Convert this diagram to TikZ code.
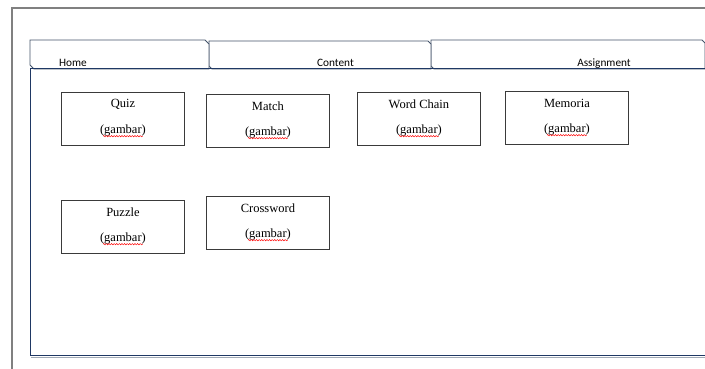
\documentclass[tikz,border=0pt]{standalone}
\usepackage{fontspec}
\setmainfont{Liberation Serif}
\newfontfamily\tabfont{Carlito}
\usetikzlibrary{calc,decorations.pathmorphing}
\definecolor{framegray}{HTML}{808080}
\definecolor{tabline}{HTML}{44546A}
\definecolor{panelline}{HTML}{1F3864}
\definecolor{boxline}{HTML}{3A3A3A}
\tikzset{
  gbox/.style={draw=boxline,line width=0.9pt,rectangle,minimum width=123pt,minimum height=53pt,inner sep=0pt,anchor=north west},
  gtitle/.style={font=\fontsize{12.5}{14}\selectfont,inner sep=0pt},
  gsub/.style={font=\fontsize{12.5}{14}\selectfont,inner sep=0pt},
  tablabel/.style={font=\tabfont\fontsize{11.3}{13}\selectfont,inner sep=0pt},
  tabshape/.style={draw=tabline,line width=0.8pt,fill=white},
  spell/.style={draw=red,line width=0.45pt,decorate,decoration={snake,amplitude=0.7pt,segment length=2.6pt}}
}
\newcommand\gamebox[4]{%
  \node[gbox] (#1) at (#2,#3) {};
  \node[gtitle] (#1t) at ($(#1.north)+(0,12)$) {#4};
  \node[gsub] (#1g) at ($(#1.north)+(0,39)$) {(gambar)};
  \draw[spell] ($(#1g.base)+(-20,2.2)$) -- ($(#1g.base)+(20,2.2)$);
}
\begin{document}
\begin{tikzpicture}[x=1pt,y=-1pt]
\useasboundingbox (0,0) rectangle (705,369);
% outer frame
\draw[framegray,line width=1.5pt] (12,369) -- (12,8) -- (705,8);
% tabs
\draw[tabshape] (431,40) -- (702,40) -- (705,43) -- (705,69) -- (434,69) -- (431,66) -- cycle;
\draw[tabshape] (209,41) -- (428,41) -- (431,44) -- (431,69) -- (212,69) -- (209,66) -- cycle;
\draw[tabshape] (30,40) -- (205,40) -- (209,44) -- (209,69) -- (34,69) -- (30,65) -- cycle;
\node[tablabel,anchor=base] (home) at (73,67) {Home};
\node[tablabel,anchor=base] (content) at (335.5,67) {Content};
\node[tablabel,anchor=base] (assign) at (604,67) {Assignment};
% panel
\draw[panelline,line width=1pt] (705,69) -- (30,69) -- (30,355.5) -- (705,355.5);
\draw[tabline!50,line width=0.8pt] (30.5,357) -- (705,357);
% boxes
\gamebox{quiz}{61}{92}{Quiz}
\gamebox{match}{206}{94}{Match}
\gamebox{word}{357}{92}{Word Chain}
\gamebox{memo}{505}{91}{Memoria}
\gamebox{puzzle}{61}{200}{Puzzle}
\gamebox{cross}{206}{196}{Crossword}
\end{tikzpicture}
\end{document}
